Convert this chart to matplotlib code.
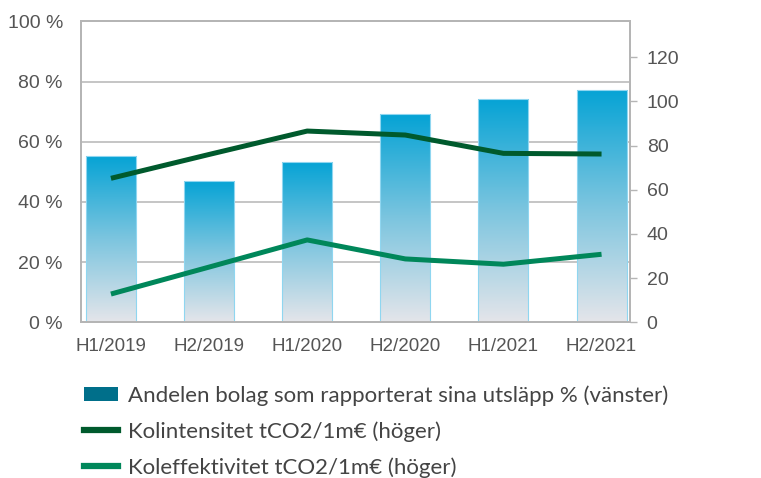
import numpy as np
import matplotlib
matplotlib.use("Agg")
import matplotlib.pyplot as plt
from matplotlib.colors import LinearSegmentedColormap
from matplotlib.lines import Line2D
from matplotlib.patches import Patch

categories = ['H1/2019', 'H2/2019', 'H1/2020', 'H2/2020', 'H1/2021', 'H2/2021']
share = [55.2, 47.0, 53.2, 69.1, 74.1, 77.1]
intensity = [65.2, 76.0, 86.6, 84.8, 76.5, 76.2]
efficiency = [12.8, 25.0, 37.3, 28.7, 26.3, 30.8]
left_ticks = [0, 20, 40, 60, 80, 100]
right_ticks = [0, 20, 40, 60, 80, 100, 120]
labels = ['Andelen bolag som rapporterat sina utsläpp % (vänster)',
          'Kolintensitet tCO2/1m€ (höger)',
          'Koleffektivitet tCO2/1m€ (höger)']

W, H = 761, 478
fig = plt.figure(figsize=(W / 100, H / 100), dpi=100)
ax = fig.add_axes([81 / W, 1 - 322.3 / H, (630 - 81) / W, (322.3 - 21.3) / H])
ax2 = ax.twinx()

grey = '#b5b5b5'
tcol = '#555555'
tickfont = 'Liberation Sans'

cmap = LinearSegmentedColormap.from_list('g', ['#e4e5ea', '#7cc5df', '#05a3d5'])
x = np.arange(len(categories))
bars = ax.bar(x, share, width=0.51, color='none', edgecolor='#8fd6f0', linewidth=0.8, zorder=2)
grad = np.linspace(0, 1, 256).reshape(-1, 1)
for b in bars:
    x0, y0 = b.get_x(), b.get_y()
    w, h = b.get_width(), b.get_height()
    im = ax.imshow(grad, cmap=cmap, origin='lower', aspect='auto',
                   extent=[x0, x0 + w, y0, y0 + h], zorder=1.5)
    im.set_clip_path(b)

ax.set_xlim(-0.305, 5.29)
ax.set_ylim(0, 100)
ax.set_yticks(left_ticks)
ax.set_yticklabels([f'{v} %' for v in left_ticks])
ax.set_xticks(x)
ax.set_xticklabels(categories)
ax.set_axisbelow(True)
ax.yaxis.grid(True, color=grey, linewidth=1.1)
ax.tick_params(axis='y', length=0, pad=13, labelsize=14, labelcolor=tcol)
ax.tick_params(axis='x', length=0, pad=11, labelsize=13.5, labelcolor=tcol)
for lab in ax.get_xticklabels() + ax.get_yticklabels():
    lab.set_fontfamily(tickfont)

ax2.plot(x, intensity, color='#005a2d', linewidth=3.6, solid_capstyle='butt', zorder=3)
ax2.plot(x, efficiency, color='#00875a', linewidth=3.6, solid_capstyle='butt', zorder=3)
ax2.set_ylim(0, 136.3)
ax2.set_yticks(right_ticks)
ax2.tick_params(axis='y', length=5, width=1, color=grey, pad=7, labelsize=14, labelcolor=tcol)
for lab in ax2.get_yticklabels():
    lab.set_fontfamily(tickfont)

for a in (ax, ax2):
    for s in a.spines.values():
        s.set_color(grey)
        s.set_linewidth(1.3)

handles = [Patch(facecolor='#006f8a', edgecolor='none'),
           Line2D([], [], color='#005a2d', linewidth=4.5),
           Line2D([], [], color='#00875a', linewidth=4.5)]
leg = fig.legend(handles, labels, loc='upper left', bbox_to_anchor=(84 / W, 1 - 385 / H),
                 frameon=False, borderpad=0, borderaxespad=0,
                 handlelength=1.55, handleheight=0.6, handletextpad=0.45,
                 labelspacing=0.7, prop={'family': 'Lato', 'size': 16})
for t in leg.get_texts():
    t.set_color('#444444')

fig.savefig('out.png', dpi=100)
